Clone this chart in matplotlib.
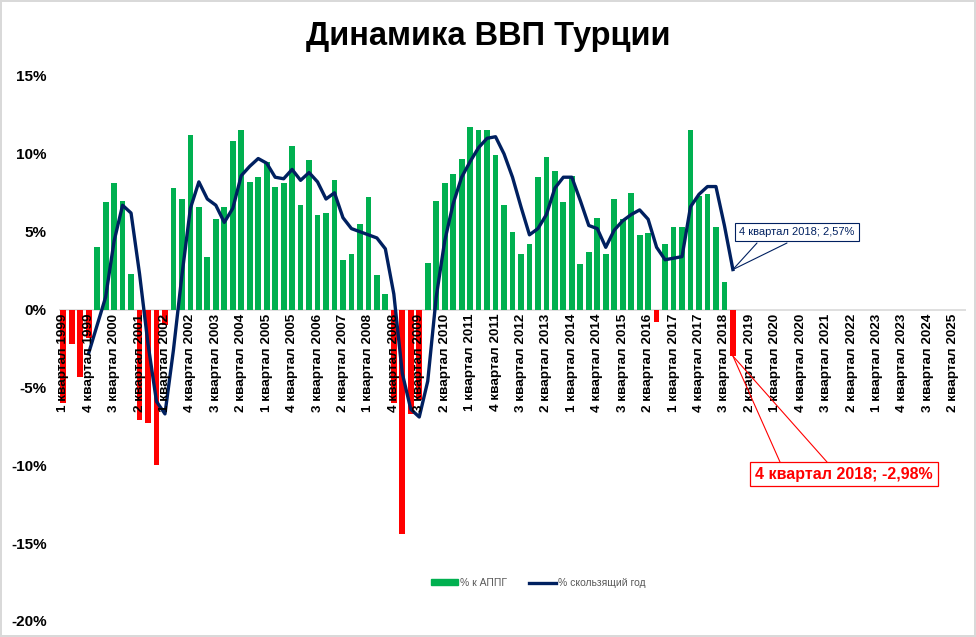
"""Динамика ВВП Турции: квартальный рост к АППГ и скользящий год."""

import numpy as np
import matplotlib
matplotlib.use("Agg")
import matplotlib.pyplot as plt
from matplotlib.patches import Patch
from matplotlib.lines import Line2D

# figure size in pixels
WIDTH = 976
HEIGHT = 637
DPI = 100

GREEN = "#00B050"
RED = "#FF0000"
NAVY = "#002060"
GRID = "#D9D9D9"

# categories: 1 квартал 1999 ... 3 квартал 2025
years = list(range(1999, 2026))
quarters = [f"{q} квартал {y}" for y in years for q in range(1, 5)][:107]

# % к АППГ (1 кв. 1999 - 4 кв. 2018)
gdp_yoy = [
    -6.0, -2.2, -4.3, -1.8,
    4.0, 6.9, 8.1, 7.0,
    2.3, -7.1, -7.3, -10.0,
    -1.0, 7.8, 7.1, 11.2,
    6.6, 3.4, 5.8, 6.6,
    10.8, 11.5, 8.2, 8.5,
    9.5, 7.9, 8.1, 10.5,
    6.7, 9.6, 6.1, 6.2,
    8.3, 3.2, 3.6, 5.5,
    7.2, 2.2, 1.0, -6.0,
    -14.4, -6.7, -5.8, 3.0,
    7.0, 8.1, 8.7, 9.7,
    11.7, 11.5, 11.5, 9.9,
    6.7, 5.0, 3.6, 4.2,
    8.5, 9.8, 8.9, 6.9,
    8.6, 2.9, 3.7, 5.9,
    3.6, 7.1, 5.8, 7.5,
    4.8, 4.9, -0.8, 4.2,
    5.3, 5.3, 11.5, 7.3,
    7.4, 5.3, 1.8, -2.98,
]

# % скользящий год
gdp_rolling = [
    np.nan, np.nan, np.nan, -2.8,
    -1.0, 0.8, 4.4, 6.7,
    6.2, 2.3, -2.2, -5.9,
    -6.7, -2.6, 2.2, 6.5,
    8.2, 7.1, 6.7, 5.6,
    6.5, 8.6, 9.2, 9.7,
    9.4, 8.5, 8.4, 9.0,
    8.3, 8.8, 8.2, 7.1,
    7.5, 5.9, 5.2, 5.0,
    4.8, 4.6, 3.9, 1.0,
    -4.1, -6.4, -6.9, -4.6,
    0.8, 4.4, 6.8, 8.5,
    9.5, 10.4, 11.0, 11.1,
    10.0, 8.5, 6.6, 4.8,
    5.2, 6.1, 7.8, 8.5,
    8.5, 7.0, 5.4, 5.2,
    4.0, 5.1, 5.7, 6.1,
    6.4, 5.8, 4.0, 3.2,
    3.3, 3.4, 6.6, 7.4,
    7.9, 7.9, 5.4, 2.57,
]

plt.rcParams["font.family"] = ["Liberation Sans", "DejaVu Sans"]


def fmt_pct(value):
    """Format value the Russian way: 2,57%."""
    return f"{value:.2f}%".replace(".", ",")


def callout(ax, text, xy, box_center, base_points, color, **text_kw):
    """Excel-like callout: text box plus two leader lines converging on the point."""
    for bx, by in base_points:
        ax.annotate("", xy=xy, xytext=(bx, HEIGHT - by), textcoords="figure pixels",
                    arrowprops=dict(arrowstyle="-", color=color, lw=0.8,
                                    shrinkA=0, shrinkB=0), zorder=5)
    ax.annotate(text, xy=xy, xytext=(box_center[0], HEIGHT - box_center[1]),
                textcoords="figure pixels", ha="center", va="center",
                color=color, zorder=6, **text_kw)


def draw_chart():
    fig = plt.figure(figsize=(WIDTH / DPI, HEIGHT / DPI), dpi=DPI)
    fig.patch.set_edgecolor(GRID)
    fig.patch.set_linewidth(1.5)

    ax = fig.add_axes([59 / WIDTH, 1 - 621 / HEIGHT, 907 / WIDTH, 545 / HEIGHT])

    x = np.arange(len(gdp_yoy))
    colors = [GREEN if v >= 0 else RED for v in gdp_yoy]
    ax.bar(x, gdp_yoy, width=0.68, color=colors, zorder=2)
    ax.plot(np.arange(len(gdp_rolling)), gdp_rolling, color=NAVY, lw=2.4,
            solid_joinstyle="round", zorder=3)

    ax.axhline(0, color=GRID, lw=1.2, zorder=1)

    ax.set_xlim(-0.5, len(quarters) - 0.5)
    ax.set_ylim(-20, 15)
    ax.set_yticks(np.arange(-20, 16, 5))
    ax.set_yticklabels([f"{v}%" for v in range(-20, 16, 5)])
    ax.tick_params(axis="y", length=0, pad=9, labelsize=11)
    for lbl in ax.get_yticklabels():
        lbl.set_fontweight("bold")
    ax.set_xticks([])
    for side in ax.spines.values():
        side.set_visible(False)

    # category labels every third quarter, hanging from the zero line
    for i in range(0, len(quarters), 3):
        ax.annotate(quarters[i], xy=(i, 0), xytext=(0, -3), textcoords="offset points",
                    rotation=90, ha="center", va="top", fontsize=9.7,
                    fontweight="bold", color="black", zorder=4)

    fig.text(0.5, 1 - 37 / HEIGHT, "Динамика ВВП Турции", ha="center", va="center",
             fontsize=23.5, fontweight="bold")

    last = len(gdp_yoy) - 1
    callout(ax, f"{quarters[last]}; {fmt_pct(gdp_rolling[last])}",
            (last, gdp_rolling[last]), (797, 232), [(757, 243), (787, 243)], NAVY,
            fontsize=8,
            bbox=dict(boxstyle="square,pad=0.35", fc="white", ec=NAVY, lw=0.8))
    callout(ax, f"{quarters[last]}; {fmt_pct(gdp_yoy[last])}",
            (last, gdp_yoy[last]), (844, 474), [(780, 462), (827, 462)], RED,
            fontsize=11.5, fontweight="bold",
            bbox=dict(boxstyle="square,pad=0.3", fc="white", ec=RED, lw=0.9))

    handles = [Patch(color=GREEN, label="% к АППГ"),
               Line2D([], [], color=NAVY, lw=2.4, label="% скользящий год")]
    leg = fig.legend(handles=handles, loc="center", ncol=2,
                     bbox_to_anchor=(538.5 / WIDTH, 1 - 583 / HEIGHT), frameon=False,
                     fontsize=7.5, handlelength=2.6, handleheight=0.45,
                     columnspacing=2.1, handletextpad=0.2)
    for t in leg.get_texts():
        t.set_color("#595959")

    fig.savefig("out.png", dpi=DPI, edgecolor=fig.get_edgecolor())
    plt.close(fig)


if __name__ == "__main__":
    draw_chart()
